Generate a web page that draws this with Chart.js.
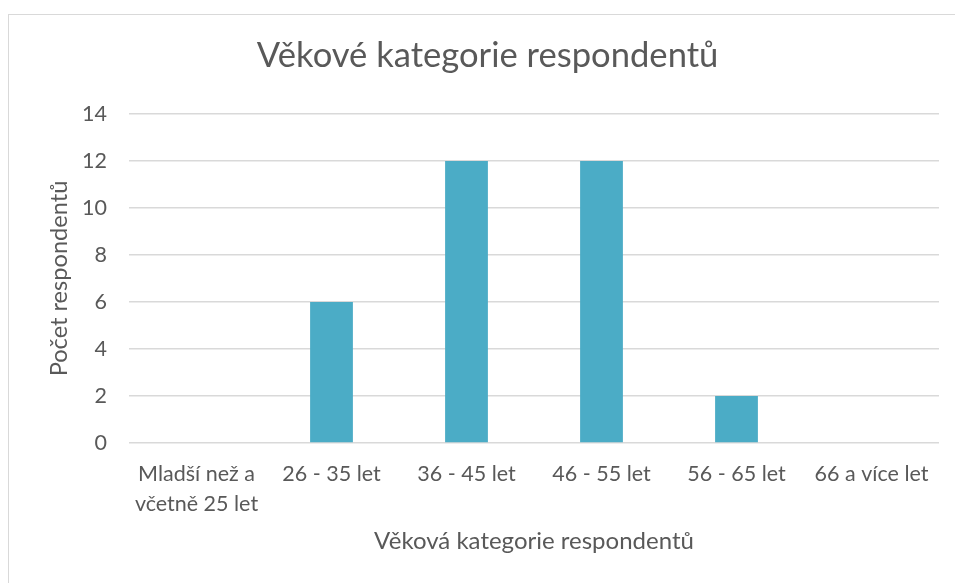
<!DOCTYPE html>
<html>
<head>
<meta charset="utf-8">
<script src="https://cdn.jsdelivr.net/npm/chart.js@4"></script>
<style>
  body { margin: 0; overflow: hidden; background: #fff; }
  #wrap { position: absolute; left: 8px; top: 14px; width: 957px; height: 600px; border: 1px solid #d9d9d9; }
</style>
</head>
<body>
<div id="wrap"><canvas id="ageChart"></canvas></div>
<script>
// chart data
var categories = [['Mladší než a', 'včetně 25 let'], '26 - 35 let', '36 - 45 let', '46 - 55 let', '56 - 65 let', '66 a více let']
var respondents = [0, 6, 12, 12, 2, 0]
var chartTitle = 'Věkové kategorie respondentů'
var xTitle = 'Věková kategorie respondentů'
var yTitle = 'Počet respondentů'

var textColor = '#595959'
var fontFamily = 'Lato, Carlito, Calibri, sans-serif'

var canvas = document.getElementById('ageChart')
canvas.width = 957
canvas.height = 600
canvas.style.width = '957px'
canvas.style.height = '600px'

var chart = new Chart(canvas.getContext('2d'), {
  type: 'bar',
  data: {
    labels: categories,
    datasets: [{
      label: yTitle,
      data: respondents,
      backgroundColor: '#4BACC6',
      barPercentage: 0.317,
      categoryPercentage: 1
    }]
  },
  options: {
    responsive: false,
    animation: false,
    layout: { padding: { left: 27, right: 27, top: 0, bottom: 52 } },
    plugins: {
      legend: { display: false },
      tooltip: { enabled: false },
      title: {
        display: true,
        text: chartTitle,
        color: textColor,
        font: { family: fontFamily, size: 34.6, weight: 'normal', lineHeight: 1.2 },
        padding: { top: 20.2, bottom: 37.3 }
      }
    },
    scales: {
      x: {
        grid: { display: false },
        border: { display: false },
        ticks: {
          color: textColor,
          padding: 8,
          maxRotation: 0,
          autoSkip: false,
          font: { family: fontFamily, size: 21.5, lineHeight: 1.4 }
        },
        title: {
          display: true,
          text: xTitle,
          color: textColor,
          font: { family: fontFamily, size: 24, lineHeight: 1.2 },
          padding: { top: 0, bottom: 7.6 }
        },
        afterFit: function (scale) { scale.height = 120 }
      },
      y: {
        min: 0,
        max: 14,
        grid: { color: '#d9d9d9', lineWidth: 1.5, drawTicks: false },
        border: { display: false },
        ticks: {
          stepSize: 2,
          color: textColor,
          padding: 22,
          font: { family: fontFamily, size: 21.5 }
        },
        title: {
          display: true,
          text: yTitle,
          color: textColor,
          font: { family: fontFamily, size: 23.6, lineHeight: 1.2 },
          padding: { top: 8.8, bottom: 0 }
        },
        afterFit: function (scale) { scale.width = 93 }
      }
    }
  }
})
</script>
</body>
</html>
